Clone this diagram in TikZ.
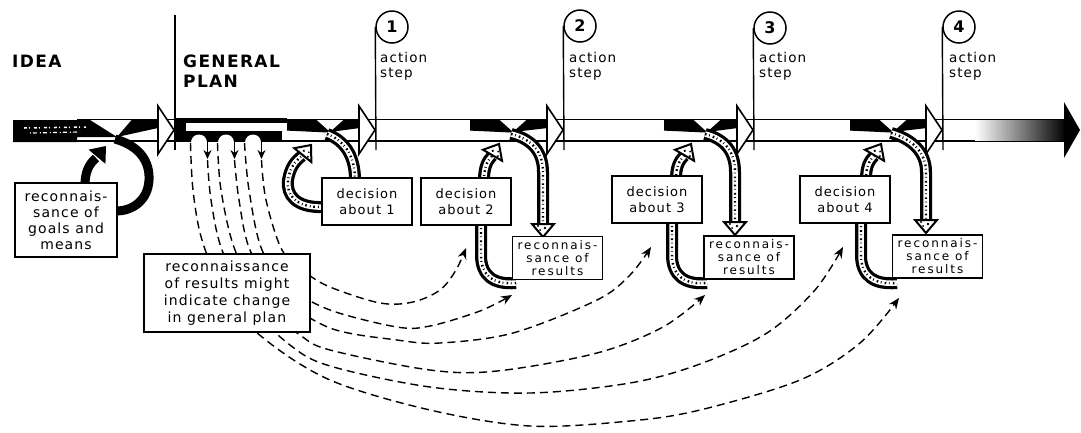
\documentclass[tikz,border=0pt]{standalone}
\usepackage{fontspec}
\setmainfont{DejaVu Sans}
\newfontfamily\lab[LetterSpace=8]{DejaVu Sans}
\newfontfamily\labw[LetterSpace=16]{DejaVu Sans}
\usetikzlibrary{arrows.meta}
\tikzset{
  box/.style={draw, line width=1.4pt, fill=white, align=center, inner sep=0pt},
  decbox/.style={box, minimum width=90pt, minimum height=47pt, font=\lab\fontsize{13}{16}\selectfont},
  recbox/.style={box, minimum width=90pt, minimum height=43pt, font=\labw\fontsize{12}{13}\selectfont},
  circ/.style={circle, draw, line width=1.5pt, minimum size=32pt, inner sep=0pt, font=\lab\bfseries\fontsize{16}{16}\selectfont},
  lbl/.style={align=left, inner sep=0pt, font=\lab\fontsize{13.5}{15.5}\selectfont},
  big/.style={inner sep=0pt, font=\lab\bfseries\fontsize{17}{20}\selectfont},
  bandline/.style={line width=1.5pt},
  ribbon/.style={line width=12pt, draw=black, postaction={draw=white, line width=5.5pt}, postaction={draw=black, line width=2.4pt, dash pattern=on 1.6pt off 2.6pt on 0.8pt off 3.2pt}},
  dline/.style={line width=1.4pt, dash pattern=on 8pt off 5pt},
  pics/rhead/.style={code={\filldraw[fill=white, draw=black, line width=2pt, line join=miter] (0,0) -- (-13,-11) -- (-13,11) -- cycle; \fill (-9,-2) circle (1.3pt) (-7,3) circle (1pt) (-11,5) circle (1.1pt);}},
  pics/bhead/.style={code={\fill[black] (0,0) -- (-14,-11) -- (-14,11) -- cycle;}}
}
\newcommand\bandtwist[2]{%
  \fill (#1-43,119.5) -- (#1-14,119.5) -- (#1,132) -- (#1-43,130) -- cycle;
  \draw[line width=1.2pt] (#1-43,130) -- (#1,132);
  \fill (#1,132) -- (#1+14,119.5) -- (#2-16,119.5) -- (#2-16,128) -- cycle;
  \filldraw[fill=white, line width=1.6pt] (#2-17,106) -- (#2-1,130) -- (#2-17,154) -- cycle;
}
\begin{document}
\begin{tikzpicture}[x=1pt,y=-1pt]
\useasboundingbox[fill=white] (0,0) rectangle (1081,432);

% ---- band ----
\fill (13,120) -- (90,120) -- (117,137) -- (77,137) -- (77,142) -- (13,142) -- cycle;
\draw[white, line width=1.5pt, dash pattern=on 3pt off 2pt on 1pt off 4pt] (24,128) -- (86,127);
\draw[white, line width=1.2pt, dash pattern=on 1pt off 2pt on 4pt off 3pt] (30,133) -- (80,132);
\draw[bandline] (77,119.5) -- (1066,119.5);
\draw[bandline] (77,141) -- (1066,141);
\fill (117,137) -- (132,119.5) -- (158,119.5) -- (158,128) -- cycle;
\filldraw[fill=white, line width=1.6pt] (158,106) -- (174,130) -- (158,154) -- cycle;
% general plan strip with arches
\fill (175,117.5) rectangle (287,123);
\fill (175,123) rectangle (186,141.5);
\fill (186,131) rectangle (282,141.5);
\fill[white] (199,142.5) circle (8pt) (226,142.5) circle (8pt) (253,142.5) circle (8pt);
\bandtwist{330}{376}
\bandtwist{513}{564}
\bandtwist{707}{754}
\bandtwist{893}{943}
\shade[left color=white, right color=black] (975,120.5) rectangle (1066,140);
\fill (1064,102) -- (1080,130) -- (1064,158) -- cycle;

% ---- markers ----
\node[circ] (c1) at (392,27) {1};
\node[circ] (c2) at (580,26) {2};
\node[circ] (c3) at (770,28) {3};
\node[circ] (c4) at (959,27) {4};
\coordinate (g0) at (175,15);
\coordinate (g0b) at (175,150);
\coordinate (c1b) at (376,150);
\coordinate (c2b) at (564,150);
\coordinate (c3b) at (754,150);
\coordinate (c4b) at (943,150);
\draw[line width=1.4pt] (g0) -- (g0b);
\draw[line width=1.4pt] (c1.west) -- (c1b);
\draw[line width=1.4pt] (c2.west) -- (c2b);
\draw[line width=1.4pt] (c3.west) -- (c3b);
\draw[line width=1.4pt] (c4.west) -- (c4b);
\node[lbl, anchor=north west] (a1) at (380,52) {action\\step};
\node[lbl, anchor=north west] (a2) at (569,52) {action\\step};
\node[lbl, anchor=north west] (a3) at (759,52) {action\\step};
\node[lbl, anchor=north west] (a4) at (949,52) {action\\step};
\node[big, anchor=base west] (idea) at (12,67) {IDEA};
\node[big, anchor=base west] (gen) at (183,67) {GENERAL};
\node[big, anchor=base west] (plan) at (183,87) {PLAN};

% ---- arch legs ----
\foreach \x in {207.5,234.5,261.5}
  \draw[line width=1.4pt, -{Stealth[length=9pt,width=8pt]}] (\x,140) -- (\x,159);

% ---- dashed curves ----
\draw[dline, -{Stealth[length=11pt,width=9pt]}] plot[smooth, tension=0.55] coordinates {(190.5,143) (193,190) (202,240) (225,295) (262,337) (330,380) (430,410) (530,426) (630,421) (700,410) (800,380) (860,343) (899,298)};
\draw[dline, -{Stealth[length=11pt,width=9pt]}] plot[smooth, tension=0.55] coordinates {(207.5,160) (211,200) (222,250) (250,305) (290,345) (330,366) (430,387) (530,393) (630,383) (700,364) (767,333) (815,290) (843,247)};
\draw[dline, -{Stealth[length=11pt,width=9pt]}] plot[smooth, tension=0.55] coordinates {(217.5,143) (221,190) (235,250) (265,305) (300,335) (330,350) (430,370) (497,371) (597,353) (663,327) (705,295)};
\draw[dline, -{Stealth[length=11pt,width=9pt]}] plot[smooth, tension=0.55] coordinates {(234.5,160) (239,200) (250,250) (280,295) (330,328) (397,340) (440,343) (513,333) (597,300) (630,275) (651,247)};
\draw[dline, -{Stealth[length=11pt,width=9pt]}] plot[smooth, tension=0.55] coordinates {(244.5,143) (249,190) (262,250) (290,287) (330,310) (397,327) (430,326) (480,311) (512,295)};
\draw[dline, -{Stealth[length=11pt,width=9pt]}] plot[smooth, tension=0.55] coordinates {(261.5,160) (266,200) (282,250) (305,272) (330,287) (380,303) (413,302) (440,290) (456,270) (466,248)};

% ---- IDEA loop ----
\draw[line width=9pt] (115,139) .. controls (140,146) and (150,162) .. (149,180) .. controls (148,200) and (133,211) .. (116,211);
\draw[line width=9pt] (85,185) .. controls (85,172) and (89,164) .. (96,158);
\pic[rotate=50] at (106,146) {bhead};

% ---- ribbons ----
\draw[ribbon] (327,134) .. controls (343,140) and (355,154) .. (355,180);
\draw[ribbon] (323,207) .. controls (296,208) and (286,195) .. (288,180) .. controls (290,168) and (295,161) .. (302,156);
\pic[rotate=51] at (311,145) {rhead};

\draw[ribbon] (511,134) .. controls (532,139) and (543,152) .. (543,172) -- (543,224);
\pic[rotate=-90] at (543,237) {rhead};
\draw[ribbon] (481,224) -- (481,255) .. controls (481,276) and (494,285) .. (516,283);
\draw[ribbon] (484,180) .. controls (484,168) and (487,161) .. (492,156);
\pic[rotate=60] at (499,144) {rhead};

\draw[ribbon] (705,134) .. controls (725,139) and (735,152) .. (735,172) -- (735,222);
\pic[rotate=-90] at (735,235) {rhead};
\draw[ribbon] (672,222) -- (672,255) .. controls (672,276) and (685,285) .. (707,283);
\draw[ribbon] (676,179) .. controls (676,167) and (679,161) .. (684,156);
\pic[rotate=60] at (691,144) {rhead};

\draw[ribbon] (891,133) .. controls (912,139) and (926,152) .. (926,172) -- (926,220);
\pic[rotate=-90] at (926,233) {rhead};
\draw[ribbon] (861,222) -- (861,255) .. controls (861,276) and (874,285) .. (897,283);
\draw[ribbon] (866,179) .. controls (866,167) and (869,161) .. (874,156);
\pic[rotate=60] at (881,144) {rhead};

% ---- boxes ----
\node[box, minimum width=102pt, minimum height=74pt, font=\lab\fontsize{14}{16}\selectfont] (goals) at (66,220) {reconnais-\\sance of\\goals and\\means};
\node[box, minimum width=166pt, minimum height=78pt, font=\lab\fontsize{14}{17}\selectfont] (gplan) at (227,293) {reconnaissance\\of results might\\indicate change\\in general plan};
\node[decbox] (d1) at (367,201.5) {decision\\about 1};
\node[decbox] (d2) at (466,201.5) {decision\\about 2};
\node[decbox] (d3) at (657,199.5) {decision\\about 3};
\node[decbox] (d4) at (845,199.5) {decision\\about 4};
\node[recbox] (r1) at (557.5,258) {reconnais-\\sance of\\results};
\node[recbox] (r2) at (749,257.5) {reconnais-\\sance of\\results};
\node[recbox] (r3) at (937.5,256.5) {reconnais-\\sance of\\results};
\end{tikzpicture}
\end{document}
